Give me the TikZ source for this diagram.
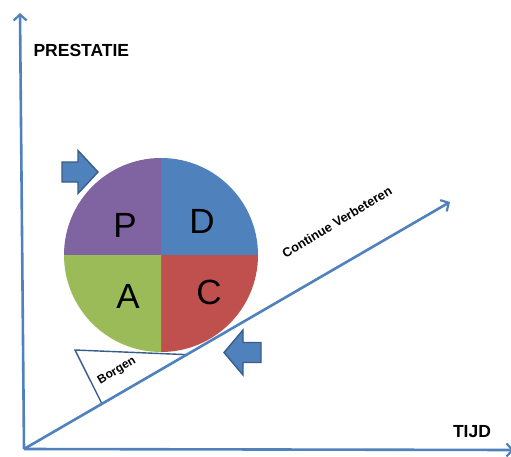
\documentclass[tikz,border=0pt]{standalone}
\usepackage{fontspec}
\setmainfont{Liberation Sans}
\usetikzlibrary{arrows.meta,calc}

\definecolor{axisblue}{HTML}{4F81BD}
\definecolor{edgeblue}{HTML}{385D8A}
\definecolor{plan}{HTML}{8064A2}
\definecolor{do}{HTML}{4F81BD}
\definecolor{check}{HTML}{C0504D}
\definecolor{act}{HTML}{9BBB59}

\tikzset{
  axisline/.style={draw=axisblue, line width=2.6pt,
    -{Straight Barb[length=6pt,width=13pt,line width=2.2pt]}},
  blockarrow/.style={fill=axisblue, draw=edgeblue, line width=1.4pt, line join=miter},
  quadlabel/.style={font=\fontsize{35}{35}\selectfont, text=black},
  axislabel/.style={font=\bfseries\fontsize{17.5}{18}\selectfont, text=black},
  slopelabel/.style={font=\bfseries\fontsize{12.8}{13}\selectfont, text=black, rotate=31},
  wedgelabel/.style={font=\bfseries\fontsize{12}{12}\selectfont, text=black, rotate=31},
}

\begin{document}
\begin{tikzpicture}[x=1pt,y=1pt]
  % page frame
  \fill[white] (0,0) rectangle (511,456);
  \useasboundingbox (0,0) rectangle (511,456);

  % axis end points
  \coordinate (O) at (24,7);
  \coordinate (ytop) at (20,443);
  \coordinate (xend) at (514,6);
  \coordinate (dtip) at (450,254);

  % PDCA wheel
  \coordinate (c) at (161,201);
  \fill[plan]  (c) -- ++(180:97) arc[start angle=180,end angle=90,radius=97] -- cycle;
  \fill[do]    (c) -- ++(90:97)  arc[start angle=90,end angle=0,radius=97] -- cycle;
  \fill[check] (c) -- ++(0:97)   arc[start angle=0,end angle=-90,radius=97] -- cycle;
  \fill[act]   (c) -- ++(-90:97) arc[start angle=-90,end angle=-180,radius=97] -- cycle;

  \node[quadlabel] (P) at (125,231) {P};
  \node[quadlabel] (D) at (202,235) {D};
  \node[quadlabel] (A) at (128,160) {A};
  \node[quadlabel] (C) at (209,164) {C};

  % wedge under the wheel
  \coordinate (w1) at (75,106);
  \coordinate (w2) at ($(O)!0.382!(dtip)$);
  \coordinate (w3) at ($(O)!0.183!(dtip)$);
  \filldraw[fill=white, draw=edgeblue, line width=1.4pt, line join=miter]
    (w1) -- (w2) -- (w3) -- cycle;
  \node[wedgelabel] (borgen) at (117,85) {Borgen};

  % axes and improvement slope
  \draw[axisline] (O) -- (ytop);
  \draw[axisline] (O) -- (xend);
  \draw[axisline] (O) -- (dtip);

  \node[axislabel, anchor=west] (prestatie) at (30,406) {PRESTATIE};
  \node[axislabel] (tijd) at (472,24) {TIJD};
  \node[slopelabel] (cv) at (337,234) {Continue Verbeteren};

  % block arrows
  \filldraw[blockarrow] (62,294) -- (78,294) -- (78,305.5) -- (98,284)
    -- (78,262.5) -- (78,274) -- (62,274) -- cycle;
  \filldraw[blockarrow] (224,103.5) -- (243,126) -- (243,113.5) -- (261,113.5)
    -- (261,93.5) -- (243,93.5) -- (243,81) -- cycle;
\end{tikzpicture}
\end{document}
